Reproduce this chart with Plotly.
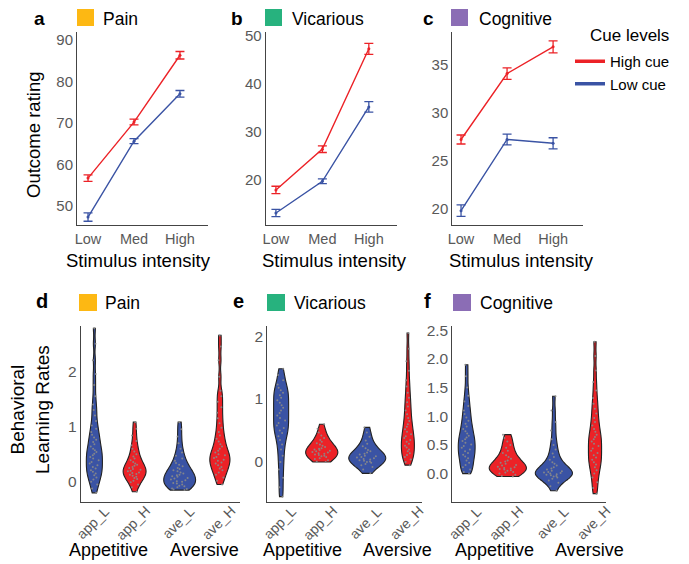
import plotly.graph_objects as go

# The page body has an 8px margin, so the figure is drawn 8px smaller and all
# reference pixel positions are shifted by that offset.
VW, VH = 689, 564
OFF = 8
W, H = VW - OFF, VH - OFF
FONT = "Liberation Sans, Arial, Helvetica, sans-serif"
RED = "#EC2227"
BLUE = "#3A53A4"
TICKC = "#595959"

# ---------------- top row data (outcome rating) ----------------
intensity_labels = ["Low", "Med", "High"]
intensity_pos = [0, 1, 2]

pain_high = [56.7, 70.2, 86.3]
pain_high_se = [0.8, 0.7, 0.9]
pain_low = [47.3, 65.6, 77.0]
pain_low_se = [1.0, 0.6, 0.8]

vic_high = [17.9, 26.4, 47.3]
vic_high_se = [0.77, 0.7, 1.15]
vic_low = [13.1, 19.7, 35.2]
vic_low_se = [0.77, 0.5, 1.1]

cog_high = [27.2, 34.1, 36.9]
cog_high_se = [0.47, 0.6, 0.63]
cog_low = [19.75, 27.2, 26.8]
cog_low_se = [0.6, 0.56, 0.58]

top_yticks = [[50, 60, 70, 80, 90], [20, 30, 40, 50], [20, 25, 30, 35]]

# ---------------- bottom row data (learning rates) ----------------
rate_labels = ["app_L", "app_H", "ave_L", "ave_H"]
rate_pos = [0, 1, 2.12, 3.12]

pain_app_L = [-0.2, -0.12, -0.05, 0.0, 0.04, 0.08, 0.12, 0.15, 0.18, 0.21, 0.24, 0.27, 0.3, 0.33,
              0.36, 0.39, 0.42, 0.45, 0.48, 0.51, 0.54, 0.57, 0.6, 0.64, 0.68, 0.72, 0.76, 0.8, 0.85,
              0.9, 0.96, 1.02, 1.1, 1.2, 1.3, 1.4, 1.55, 1.75, 1.95, 2.2, 2.5, 2.78]
pain_app_H = [-0.18, -0.1, -0.05, -0.01, 0.02, 0.05, 0.07, 0.09, 0.11, 0.13, 0.14, 0.16, 0.17, 0.19,
              0.2, 0.22, 0.23, 0.25, 0.27, 0.29, 0.31, 0.33, 0.36, 0.39, 0.42, 0.46, 0.5, 0.55, 0.6,
              0.66, 0.74, 0.84, 0.96, 1.08]
pain_ave_L = [-0.15, -0.14, -0.13, -0.12, -0.1, -0.08, -0.07, -0.05, -0.03, -0.02, 0.0, 0.01, 0.03,
              0.04, 0.06, 0.07, 0.09, 0.1, 0.12, 0.13, 0.15, 0.17, 0.19, 0.21, 0.23, 0.25, 0.28, 0.31,
              0.34, 0.38, 0.42, 0.47, 0.53, 0.6, 0.7, 0.82, 0.95, 1.08]
pain_ave_H = [-0.05, 0.02, 0.08, 0.13, 0.17, 0.21, 0.24, 0.27, 0.3, 0.33, 0.35, 0.38, 0.4, 0.43, 0.45,
              0.48, 0.5, 0.53, 0.56, 0.6, 0.64, 0.68, 0.73, 0.78, 0.84, 0.9, 0.98, 1.06, 1.15, 1.25,
              1.35, 1.45, 1.55, 1.65, 1.9, 2.2, 2.45, 2.65]

vic_app_L = [-0.55, -0.4, -0.25, -0.12, 0.0, 0.1, 0.2, 0.28, 0.35, 0.41, 0.46, 0.5, 0.54, 0.58, 0.62,
             0.66, 0.7, 0.74, 0.78, 0.82, 0.86, 0.9, 0.94, 0.98, 1.02, 1.06, 1.1, 1.14, 1.18, 1.23,
             1.3, 1.38, 1.48]
vic_app_H = [0.0, 0.01, 0.03, 0.05, 0.06, 0.08, 0.09, 0.1, 0.11, 0.12, 0.13, 0.14, 0.15, 0.16, 0.17,
             0.18, 0.19, 0.2, 0.21, 0.22, 0.24, 0.26, 0.28, 0.3, 0.32, 0.35, 0.38, 0.42, 0.47, 0.53, 0.6]
vic_ave_L = [-0.18, -0.12, -0.08, -0.05, -0.03, -0.01, 0.0, 0.01, 0.02, 0.03, 0.04, 0.05, 0.06, 0.07,
             0.08, 0.09, 0.1, 0.12, 0.13, 0.15, 0.17, 0.19, 0.22, 0.25, 0.29, 0.34, 0.4, 0.47, 0.55]
vic_ave_H = [-0.05, 0.0, 0.04, 0.08, 0.11, 0.14, 0.17, 0.2, 0.23, 0.26, 0.29, 0.32, 0.35, 0.38, 0.41,
             0.44, 0.48, 0.52, 0.56, 0.6, 0.65, 0.7, 0.76, 0.82, 0.88, 0.95, 1.02, 1.1, 1.2, 1.3, 1.45,
             1.6, 1.8, 2.05]

cog_app_L = [0.0, 0.03, 0.07, 0.11, 0.15, 0.19, 0.23, 0.27, 0.3, 0.33, 0.36, 0.39, 0.42, 0.45, 0.48,
             0.51, 0.54, 0.57, 0.6, 0.63, 0.66, 0.7, 0.74, 0.78, 0.82, 0.87, 0.92, 0.98, 1.04, 1.1,
             1.18, 1.26, 1.36, 1.5, 1.7, 1.9]
cog_app_H = [-0.05, -0.04, -0.02, 0.0, 0.02, 0.03, 0.05, 0.06, 0.07, 0.08, 0.09, 0.1, 0.11, 0.12, 0.14,
             0.15, 0.17, 0.19, 0.21, 0.23, 0.26, 0.29, 0.32, 0.36, 0.4, 0.45, 0.5, 0.56, 0.62, 0.68]
cog_ave_L = [-0.3, -0.22, -0.16, -0.12, -0.09, -0.07, -0.05, -0.04, -0.03, -0.02, -0.01, 0.0, 0.01,
             0.02, 0.03, 0.04, 0.05, 0.07, 0.09, 0.11, 0.14, 0.17, 0.2, 0.24, 0.29, 0.35, 0.42, 0.5,
             0.6, 0.75, 0.9, 1.1, 1.35]
cog_ave_H = [-0.35, -0.25, -0.15, -0.07, 0.0, 0.06, 0.11, 0.16, 0.2, 0.24, 0.28, 0.32, 0.36, 0.4, 0.44,
             0.48, 0.52, 0.56, 0.6, 0.64, 0.68, 0.73, 0.78, 0.84, 0.9, 0.97, 1.05, 1.13, 1.22, 1.32,
             1.45, 1.6, 1.8, 2.05, 2.3]

bot_yticks = [[0, 1, 2], [0, 1, 2], [0.0, 0.5, 1.0, 1.5, 2.0, 2.5]]
bot_yticktext = [["0", "1", "2"], ["0", "1", "2"], ["0.0", "0.5", "1.0", "1.5", "2.0", "2.5"]]

modalities = ["Pain", "Vicarious", "Cognitive"]
mod_colors = ["#FDB813", "#27B27E", "#8B6DB5"]

# max violin widths (style, in x-axis units)
violin_widths = [[0.40, 0.57, 0.79, 0.50], [0.37, 0.79, 0.91, 0.32], [0.41, 0.90, 0.90, 0.32]]


def px(x):
    return (x - OFF) / W


def py(y):
    return 1 - (y - OFF) / H


fig = go.Figure()

# ---------------- top row traces ----------------
top_sets = [
    (pain_high, pain_high_se, pain_low, pain_low_se),
    (vic_high, vic_high_se, vic_low, vic_low_se),
    (cog_high, cog_high_se, cog_low, cog_low_se),
]
for i, (hi, hise, lo, lose) in enumerate(top_sets):
    xa = "x" if i == 0 else f"x{i + 1}"
    ya = "y" if i == 0 else f"y{i + 1}"
    for vals, errs, col in ((lo, lose, BLUE), (hi, hise, RED)):
        fig.add_trace(go.Scatter(
            x=intensity_pos, y=vals, mode="lines+markers",
            line=dict(color=col, width=1.4),
            marker=dict(color=col, size=3),
            error_y=dict(type="data", array=errs, color=col, thickness=1.3, width=4.5),
            xaxis=xa, yaxis=ya, showlegend=False))

# legend entries
fig.add_trace(go.Scatter(x=[None], y=[None], mode="lines", name="High cue",
                         line=dict(color=RED, width=3.5), xaxis="x", yaxis="y"))
fig.add_trace(go.Scatter(x=[None], y=[None], mode="lines", name="Low cue",
                         line=dict(color=BLUE, width=3.5), xaxis="x", yaxis="y"))

# ---------------- bottom row traces ----------------
bot_sets = [
    [pain_app_L, pain_app_H, pain_ave_L, pain_ave_H],
    [vic_app_L, vic_app_H, vic_ave_L, vic_ave_H],
    [cog_app_L, cog_app_H, cog_ave_L, cog_ave_H],
]
fill_cols = [BLUE, RED, BLUE, RED]
for i, sets in enumerate(bot_sets):
    xa = f"x{i + 4}"
    ya = f"y{i + 4}"
    for j, vals in enumerate(sets):
        fig.add_trace(go.Violin(
            y=vals, x0=rate_pos[j], xaxis=xa, yaxis=ya,
            fillcolor=fill_cols[j], line=dict(color="#222222", width=1.1),
            opacity=1, width=violin_widths[i][j], scalemode="width", scalegroup=f"g{i}_{j}",
            spanmode="hard", bandwidth=0.1,
            points="all", pointpos=0, jitter=0.6,
            marker=dict(color="#8a8a8a", size=2, opacity=0.9),
            box_visible=False, meanline_visible=False, showlegend=False,
            hoveron="violins"))

# ---------------- axes ----------------
axis_common = dict(showline=True, linecolor="#444444", linewidth=1, ticks="", showgrid=False,
                   zeroline=False, automargin=False)

top_dom_x = [[77, 208], [265.7, 396.7], [452.3, 583]]
top_xr = [[-0.24, 2.61], [-0.22, 2.6], [-0.19, 2.65]]
top_yr = [[45.4, 91.9], [10.6, 50.8], [18.25, 38.45]]
bot_dom_x = [[80.7, 240], [267.3, 421.7], [452.3, 605.7]]
bot_xr = [[-0.34, 3.62], [-0.34, 3.46], [-0.35, 3.38]]
bot_yr = [[-0.36, 2.82], [-0.63, 2.16], [-0.49, 2.575]]

layout_axes = {}
for i in range(3):
    n = "" if i == 0 else str(i + 1)
    layout_axes[f"xaxis{n}"] = dict(axis_common, domain=[px(top_dom_x[i][0]), px(top_dom_x[i][1])],
                                    range=top_xr[i], tickvals=intensity_pos, ticktext=intensity_labels,
                                    anchor=f"y{n}", ticklabelstandoff=1,
                                    tickfont=dict(size=14.5, color=TICKC, family=FONT))
    layout_axes[f"yaxis{n}"] = dict(axis_common, domain=[py(225), py(32)], range=top_yr[i],
                                    tickvals=top_yticks[i], anchor=f"x{n}",
                                    tickfont=dict(size=15, color=TICKC, family=FONT))
for i in range(3):
    n = str(i + 4)
    layout_axes[f"xaxis{n}"] = dict(axis_common, domain=[px(bot_dom_x[i][0]), px(bot_dom_x[i][1])],
                                    range=bot_xr[i], tickvals=rate_pos, showticklabels=False,
                                    anchor=f"y{n}")
    layout_axes[f"yaxis{n}"] = dict(axis_common, domain=[py(501.7), py(326)], range=bot_yr[i],
                                    tickvals=bot_yticks[i], ticktext=bot_yticktext[i], anchor=f"x{n}",
                                    tickfont=dict(size=15.5, color=TICKC, family=FONT))

# ---------------- annotations & shapes ----------------
ann = []
shapes = []


def text(x, y, s, size, color="black", bold=False, xanchor="center", angle=0):
    ann.append(dict(x=px(x), y=py(y), xref="paper", yref="paper", text=f"<b>{s}</b>" if bold else s,
                    showarrow=False, xanchor=xanchor, yanchor="middle", textangle=angle,
                    font=dict(size=size, color=color, family=FONT)))


# rotated category labels of the violin panels, tied to the x axes
for i in range(3):
    for pos, lab in zip(rate_pos, rate_labels):
        ann.append(dict(x=pos, xref=f"x{i + 4}", y=py(522.5), yref="paper", text=lab,
                        showarrow=False, textangle=-45, xanchor="center", yanchor="middle",
                        xshift=-2, font=dict(size=14, color=TICKC, family=FONT)))

# panel letters / modality headers
top_letters = [("a", 39, 77, 101), ("b", 237, 265, 290), ("c", 428, 451, 477)]
for (l, lx, sx, tx), m, c in zip(top_letters, modalities, mod_colors):
    text(lx, 19, l, 19, bold=True)
    shapes.append(dict(type="rect", xref="paper", yref="paper", x0=px(sx), x1=px(sx + 17),
                       y0=py(26), y1=py(9), fillcolor=c, line=dict(width=0)))
    text(tx, 19, m, 17.5, xanchor="left")

bot_letters = [("d", 42, 79, 103), ("e", 238, 267, 292), ("f", 427, 453, 478)]
for (l, lx, sx, tx), m, c in zip(bot_letters, modalities, mod_colors):
    text(lx, 301, l, 20, bold=True)
    shapes.append(dict(type="rect", xref="paper", yref="paper", x0=px(sx), x1=px(sx + 18),
                       y0=py(311), y1=py(294), fillcolor=c, line=dict(width=0)))
    text(tx, 303, m, 17.5, xanchor="left")

for cx in (138, 334, 521):
    text(cx, 260, "Stimulus intensity", 18.5)
text(33, 135, "Outcome rating", 18.5, angle=-90)
text(30, 410, "Behavioral<br>Learning Rates", 19, angle=-90)

for a_x, v_x in ((109, 204), (302, 397), (494, 589)):
    text(a_x, 550, "Appetitive", 18)
    text(v_x, 550, "Aversive", 18)

text(588, 35, "Cue levels", 17, xanchor="left")

fig.update_layout(
    width=W, height=H, margin=dict(l=0, r=0, t=0, b=0, pad=0, autoexpand=False),
    paper_bgcolor="white", plot_bgcolor="white",
    font=dict(family=FONT),
    violinmode="overlay",
    showlegend=True,
    legend=dict(x=px(570), y=py(45), xanchor="left", yanchor="top",
                font=dict(size=15, color="black", family=FONT), bgcolor="rgba(0,0,0,0)",
                itemwidth=30, tracegroupgap=0),
    annotations=ann, shapes=shapes,
    **layout_axes,
)

fig.write_html("out.html")
